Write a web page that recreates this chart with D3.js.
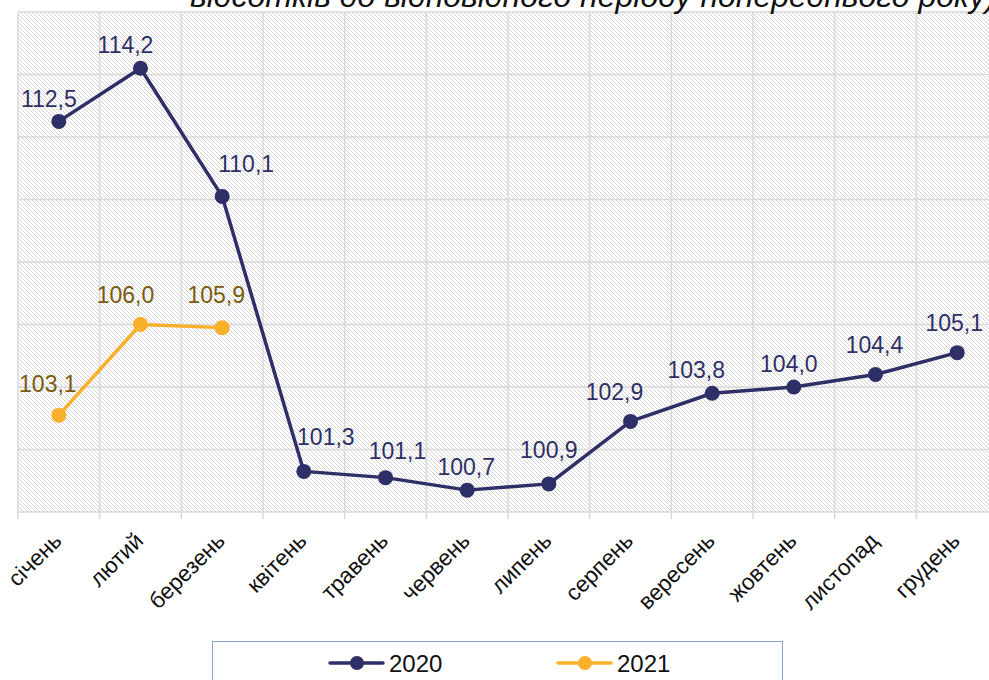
<!DOCTYPE html>
<html lang="uk">
<head>
<meta charset="utf-8">
<title>Індекси 2020-2021</title>
<script src="https://d3js.org/d3.v7.min.js"></script>
<style>
body { margin: 0; background: #fff; }
svg text { font-family: "Liberation Sans", Arial, sans-serif; }
.grid line { stroke: #d9d9d9; stroke-width: 1.5; }
</style>
</head>
<body>
<svg id="chart" width="989" height="680"></svg>
<script>
// months
var months = ['січень', 'лютий', 'березень', 'квітень', 'травень', 'червень',
  'липень', 'серпень', 'вересень', 'жовтень', 'листопад', 'грудень'];
var values2020 = [112.5, 114.2, 110.1, 101.3, 101.1, 100.7, 100.9, 102.9, 103.8, 104.0, 104.4, 105.1];
var values2021 = [103.1, 106.0, 105.9];
var yTicks = [100, 102, 104, 106, 108, 110, 112, 114, 116];
var seriesNames = ['2020', '2021'];
var title = 'відсотків до відповідного періоду попереднього року)';

// label nudges (layout only), [dx, dy]
var shift2020 = [[-10, -14], [-15, -15], [24, -24], [22, -26], [12, -19], [-1, -15],
  [0, -26], [-16, -21], [-16, -15], [-5, -15], [-1, -22], [-3, -22]];
var shift2021 = [[-11, -23], [-15, -22], [-6, -25]];

var colors = { '2020': '#2e2f66', '2021': '#f9b12c' };
var labelColors = { '2020': '#2e2f66', '2021': '#7a5a0c' };

var svg = d3.select('#chart');
var pl = 18, pt = 12, pr = 998, pb = 512;

var x = d3.scaleBand().domain(months).range([pl, pr]);
var y = d3.scaleLinear().domain([100, 116]).range([pb, pt]);

var defs = svg.append('defs');
var pat = defs.append('pattern')
  .attr('id', 'hatch')
  .attr('patternUnits', 'userSpaceOnUse')
  .attr('width', 4).attr('height', 4);
pat.append('rect').attr('width', 4).attr('height', 4).attr('fill', '#fff');
[0, 1, 2, 3].forEach(function(i) {
  pat.append('rect').attr('x', i).attr('y', i)
    .attr('width', 1).attr('height', 1)
    .attr('fill', '#d6d6d6');
});

svg.append('rect')
  .attr('x', pl).attr('y', pt)
  .attr('width', pr - pl).attr('height', pb - pt)
  .attr('fill', 'url(#hatch)');

// grid
var grid = svg.append('g').attr('class', 'grid');
grid.selectAll('.h').data(yTicks).enter().append('line')
  .attr('x1', pl).attr('x2', pr)
  .attr('y1', function(d) { return y(d); })
  .attr('y2', function(d) { return y(d); });
var bounds = months.map(function(m) { return x(m); }).concat([pr]);
grid.selectAll('.v').data(bounds).enter().append('line')
  .attr('x1', function(d) { return d; })
  .attr('x2', function(d) { return d; })
  .attr('y1', pt).attr('y2', pb + 7);

// x axis labels
svg.append('g').selectAll('text').data(months).enter().append('text')
  .attr('transform', function(d) {
    return 'translate(' + (x(d) + x.bandwidth() / 2 - 7) + ',' + 531 + ') rotate(-45)';
  })
  .attr('text-anchor', 'end')
  .attr('dy', '0.7em')
  .attr('font-size', 22.5)
  .attr('fill', '#111')
  .text(function(d) { return d; });

function drawSeries(name, vals, shifts) {
  var pts = vals.map(function(v, i) { return { m: months[i], v: v, s: shifts[i] }; });
  var line = d3.line()
    .x(function(d) { return x(d.m) + x.bandwidth() / 2; })
    .y(function(d) { return y(d.v); });
  var g = svg.append('g');
  g.append('path').datum(pts)
    .attr('d', line)
    .attr('fill', 'none')
    .attr('stroke', colors[name])
    .attr('stroke-width', 3.5)
    .attr('stroke-linejoin', 'round');
  g.selectAll('circle').data(pts).enter().append('circle')
    .attr('cx', function(d) { return x(d.m) + x.bandwidth() / 2; })
    .attr('cy', function(d) { return y(d.v); })
    .attr('r', 7.5)
    .attr('fill', colors[name]);
  g.selectAll('text').data(pts).enter().append('text')
    .attr('x', function(d) { return x(d.m) + x.bandwidth() / 2 + d.s[0]; })
    .attr('y', function(d) { return y(d.v) + d.s[1]; })
    .attr('text-anchor', 'middle')
    .attr('font-size', 23)
    .attr('fill', labelColors[name])
    .text(function(d) { return d3.format('.1f')(d.v).replace('.', ','); });
}
drawSeries('2021', values2021, shift2021);
drawSeries('2020', values2020, shift2020);

// title (cut off at the top)
svg.append('text')
  .attr('x', 190).attr('y', 7)
  .attr('font-size', 32)
  .attr('font-style', 'italic')
  .attr('fill', '#111')
  .text(title);

// legend
svg.append('rect')
  .attr('x', 212.5).attr('y', 641.5)
  .attr('width', 570).attr('height', 60)
  .attr('fill', '#fff')
  .attr('stroke', '#8aa2cf');
var lx = [330, 558];
seriesNames.forEach(function(n, i) {
  var lg = svg.append('g').attr('transform', 'translate(' + lx[i] + ',663)');
  lg.append('line').attr('x1', 0).attr('x2', 53)
    .attr('stroke', colors[n]).attr('stroke-width', 3.5).attr('stroke-linecap', 'round');
  lg.append('circle').attr('cx', 27).attr('r', 7).attr('fill', colors[n]);
  lg.append('text').attr('x', 59).attr('y', 9)
    .attr('font-size', 24).attr('fill', '#111').text(n);
});
</script>
</body>
</html>
